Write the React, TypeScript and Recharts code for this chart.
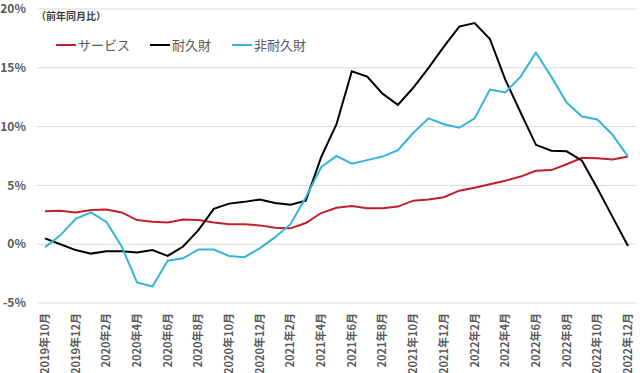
import React from 'react';
import { LineChart, Line, XAxis, YAxis, CartesianGrid } from 'recharts';

const months = [
  '2019年10月', '2019年11月', '2019年12月',
  '2020年1月', '2020年2月', '2020年3月', '2020年4月', '2020年5月', '2020年6月',
  '2020年7月', '2020年8月', '2020年9月', '2020年10月', '2020年11月', '2020年12月',
  '2021年1月', '2021年2月', '2021年3月', '2021年4月', '2021年5月', '2021年6月',
  '2021年7月', '2021年8月', '2021年9月', '2021年10月', '2021年11月', '2021年12月',
  '2022年1月', '2022年2月', '2022年3月', '2022年4月', '2022年5月', '2022年6月',
  '2022年7月', '2022年8月', '2022年9月', '2022年10月', '2022年11月', '2022年12月',
];

// サービス
const service = [
  2.8, 2.85, 2.7, 2.9, 2.95, 2.7, 2.05, 1.9, 1.85, 2.1, 2.05, 1.85, 1.7,
  1.7, 1.6, 1.4, 1.35, 1.8, 2.65, 3.1, 3.25, 3.05, 3.05, 3.2, 3.7, 3.8,
  4.0, 4.55, 4.8, 5.1, 5.4, 5.75, 6.25, 6.3, 6.8, 7.35, 7.3, 7.2, 7.45,
];

// 耐久財
const durable = [
  0.5, 0.0, -0.5, -0.8, -0.6, -0.6, -0.7, -0.5, -1.0, -0.2, 1.2, 3.0, 3.45,
  3.6, 3.8, 3.5, 3.35, 3.7, 7.4, 10.2, 14.7, 14.25, 12.8, 11.85, 13.3, 15.0,
  16.8, 18.5, 18.8, 17.45, 14.0, 11.2, 8.45, 7.95, 7.9, 7.1, 4.75, 2.3, -0.15,
];

// 非耐久財
const nondurable = [
  -0.25, 0.75, 2.15, 2.7, 1.9, -0.2, -3.25, -3.6, -1.4, -1.2, -0.45, -0.45, -1.0,
  -1.1, -0.35, 0.6, 1.7, 4.0, 6.55, 7.5, 6.85, 7.15, 7.45, 8.0, 9.45, 10.7,
  10.2, 9.9, 10.7, 13.15, 12.9, 14.25, 16.3, 14.25, 12.05, 10.85, 10.6, 9.3, 7.45,
];

const yTicks = [-5, 0, 5, 10, 15, 20];

const data = months.map((m, i) => ({
  month: m,
  service: service[i],
  durable: durable[i],
  nondurable: nondurable[i],
}));

const FONT = '"Noto Sans CJK JP", "Noto Sans", sans-serif';
const TEXT = '#595959';

const XTick = (props: any) => {
  const { x, y, payload } = props;
  return (
    <text
      x={x}
      y={y}
      dy="0.36em"
      transform={`rotate(-90 ${x} ${y})`}
      textAnchor="end"
      fontSize={11}
      fontWeight="bold"
      fontFamily={FONT}
      fill={TEXT}
    >
      {payload.value}
    </text>
  );
};

const legendItems = [
  { name: 'サービス', color: '#C0202A', left: 56 },
  { name: '耐久財', color: '#000000', left: 150 },
  { name: '非耐久財', color: '#35B4DA', left: 232 },
];

// legend + unit note drawn over the plot, top-left like the original
const LegendBox = () => (
  <div style={{ position: 'absolute', left: 0, top: 0, width: 320, height: 55, fontFamily: FONT, color: TEXT, pointerEvents: 'none' }}>
    <div style={{ position: 'absolute', left: 36, top: 8, fontSize: 10, fontWeight: 'bold', color: '#404040', whiteSpace: 'nowrap' }}>
      （前年同月比）
    </div>
    {legendItems.map((it) => (
      <div
        key={it.name}
        style={{ position: 'absolute', left: it.left, top: 35, display: 'flex', alignItems: 'center', fontSize: 13, whiteSpace: 'nowrap' }}
      >
        <span style={{ display: 'inline-block', width: 20, height: 2, background: it.color, marginRight: 2 }} />
        <span>{it.name}</span>
      </div>
    ))}
  </div>
);

export default function App() {
  return (
    <div style={{ position: 'absolute', left: 0, top: 0, width: 640, height: 373, background: '#fff' }}>
      <LineChart
        width={640}
        height={373}
        data={data}
        margin={{ top: 9, right: 4, left: 0, bottom: 0 }}
      >
        <CartesianGrid vertical={false} stroke="#D9D9D9" />
        <XAxis
          dataKey="month"
          interval={1}
          axisLine={false}
          tickLine={false}
          tickMargin={4}
          height={70}
          padding={{ left: 8, right: 8 }}
          tick={<XTick />}
        />
        <YAxis
          domain={[-5, 20]}
          ticks={yTicks}
          width={37}
          axisLine={false}
          tickLine={false}
          tickMargin={5}
          tickFormatter={(v: number) => `${v}%`}
          tick={{ fontSize: 12, fontWeight: 'bold', fill: TEXT, fontFamily: FONT }}
        />
        <Line dataKey="service" name="サービス" stroke="#C0202A" strokeWidth={2} dot={false} isAnimationActive={false} />
        <Line dataKey="durable" name="耐久財" stroke="#000000" strokeWidth={2} dot={false} isAnimationActive={false} />
        <Line dataKey="nondurable" name="非耐久財" stroke="#35B4DA" strokeWidth={2} dot={false} isAnimationActive={false} />
      </LineChart>
      <LegendBox />
    </div>
  );
}
